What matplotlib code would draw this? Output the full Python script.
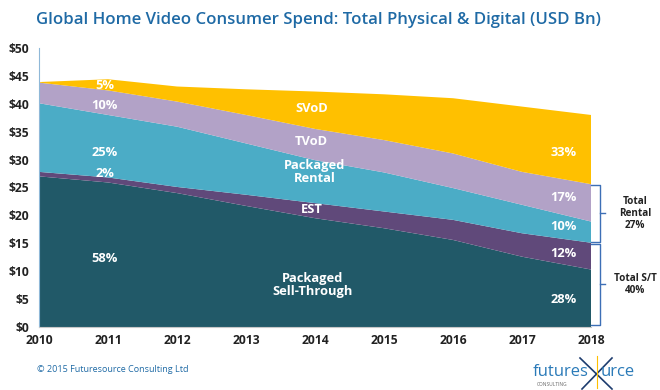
"""
Global home video consumer spend, stacked area by format.
"""

import matplotlib
matplotlib.use("Agg")
import matplotlib.pyplot as plt

years = [2010, 2011, 2012, 2013, 2014, 2015, 2016, 2017, 2018]
sell_through = [27.0, 25.9, 24.0, 21.7, 19.5, 17.7, 15.6, 12.6, 10.3]
est = [0.8, 0.9, 1.1, 2.0, 2.7, 3.0, 3.6, 4.2, 4.8]
rental = [12.3, 11.2, 10.8, 9.2, 7.7, 7.0, 5.7, 5.1, 3.8]
tvod = [3.7, 4.4, 4.5, 5.1, 5.6, 5.8, 6.2, 5.9, 6.7]
svod = [0.1, 2.0, 2.7, 4.6, 6.7, 8.2, 9.9, 11.7, 12.4]

pct_2011 = ["58%", "2%", "25%", "10%", "5%"]
pct_2018 = ["28%", "12%", "10%", "17%", "33%"]
yticks = [0, 5, 10, 15, 20, 25, 30, 35, 40, 45, 50]

colors = ["#215968", "#60497a", "#4bacc6", "#b2a2c7", "#ffc000"]
blue = "#1f6aa5"
bracket_c = "#3d6fb6"
font = "Open Sans"

fig = plt.figure(figsize=(6.6, 3.9), dpi=100)
ax = fig.add_axes([39 / 660, 1 - 327 / 390, (591 - 39) / 660, (327 - 48) / 390])

series = [sell_through, est, rental, tvod, svod]
ax.stackplot(years, *series, colors=colors, linewidth=0)
ax.set_xlim(2010, 2018)
ax.set_ylim(0, 50)

ax.set_yticks(yticks)
ax.set_yticklabels([f"${v}" for v in yticks], fontsize=8.7, fontweight="bold",
                   color="#222222", family=font)
ax.set_xticks(years)
ax.set_xticklabels([str(y) for y in years], fontsize=8.7, fontweight="bold",
                   color="#222222", family=font)
ax.tick_params(axis="y", length=0, pad=7)
ax.tick_params(axis="x", length=0, pad=5)
for s in ["top", "right"]:
    ax.spines[s].set_visible(False)
ax.spines["left"].set_color("#8fb8d8")
ax.spines["left"].set_linewidth(0.8)
ax.spines["bottom"].set_color("#c8c8c8")
ax.spines["bottom"].set_linewidth(0.8)

# cumulative tops per year
cum = []
run = [0.0] * len(years)
for s in series:
    run = [a + b for a, b in zip(run, s)]
    cum.append(run)

lbl = dict(color="white", fontsize=9.3, fontweight="bold", family=font,
           ha="center", va="center")

# 2011 shares
mids_2011 = [12.2, 27.5, 31.2, 39.7, 43.2]
for m, t in zip(mids_2011, pct_2011):
    ax.text(2010.95, m, t, **lbl)

# 2018 shares
mids_2018 = [5.0, 13.2, 18.0, 23.2, 31.3]
for m, t in zip(mids_2018, pct_2018):
    ax.text(2017.6, m, t, **lbl)

# band names
ax.text(2013.95, 39.1, "SVoD", **lbl)
ax.text(2013.95, 33.2, "TVoD", **lbl)
ax.text(2014.0, 27.8, "Packaged\nRental", linespacing=1.0, **lbl)
ax.text(2013.95, 21.1, "EST", **lbl)
ax.text(2013.97, 7.6, "Packaged\nSell-Through", linespacing=1.0, **lbl)

# brackets at the right
j = len(years) - 1
x0, x1, x2 = 2018.0, 2018.13, 2018.2


def bracket(lo, hi):
    mid = (lo + hi) / 2
    ax.plot([x0, x1, x1, x0], [hi, hi, lo, lo], color=bracket_c, lw=1.0,
            clip_on=False, solid_joinstyle="round")
    ax.plot([x1, x2], [mid, mid], color=bracket_c, lw=1.0, clip_on=False)
    return mid


m1 = bracket(cum[1][j] + 0.2, cum[3][j] - 0.2)
m2 = bracket(0.4, cum[1][j] - 0.2)
ax.text(2018.64, m1, "Total\nRental\n27%", fontsize=7.2, fontweight="bold",
        color="#222222", family=font, ha="center", va="center", linespacing=1.15)
ax.text(2018.64, m2, "Total S/T\n40%", fontsize=7.2, fontweight="bold",
        color="#222222", family=font, ha="center", va="center", linespacing=1.15)

fig.text(36 / 660, 1 - 20 / 390,
         "Global Home Video Consumer Spend: Total Physical & Digital (USD Bn)",
         fontsize=12.1, fontweight="semibold", color=blue, family=font,
         ha="left", va="center")

fig.text(37 / 660, 1 - 370 / 390, "\u00a9 2015 Futuresource Consulting Ltd",
         fontsize=6.5, color=blue, family=font, ha="left", va="center")

# logo
fig.text(533 / 660, 1 - 372 / 390, "futures", fontsize=12, color="#2a7ab8",
         family=font, ha="left", va="center")
fig.text(601 / 660, 1 - 372 / 390, "urce", fontsize=12, color="#2a7ab8",
         family=font, ha="left", va="center")
fig.text(537 / 660, 1 - 384 / 390, "CONSULTING", fontsize=3.5, color="#666666",
         family=font, ha="left", va="center")
fig.add_artist(plt.Line2D([580 / 660, 612 / 660], [1 - 358 / 390, 1 - 389 / 390],
                          color="#1d3c6e", lw=1.2))
fig.add_artist(plt.Line2D([612 / 660, 582 / 660], [1 - 358 / 390, 1 - 389 / 390],
                          color="#1d3c6e", lw=1.2))
fig.add_artist(plt.Line2D([597 / 660, 597 / 660], [1 - 356 / 390, 1 - 388 / 390],
                          color="#ffc000", lw=0.8))

fig.savefig("out.png", dpi=100)
